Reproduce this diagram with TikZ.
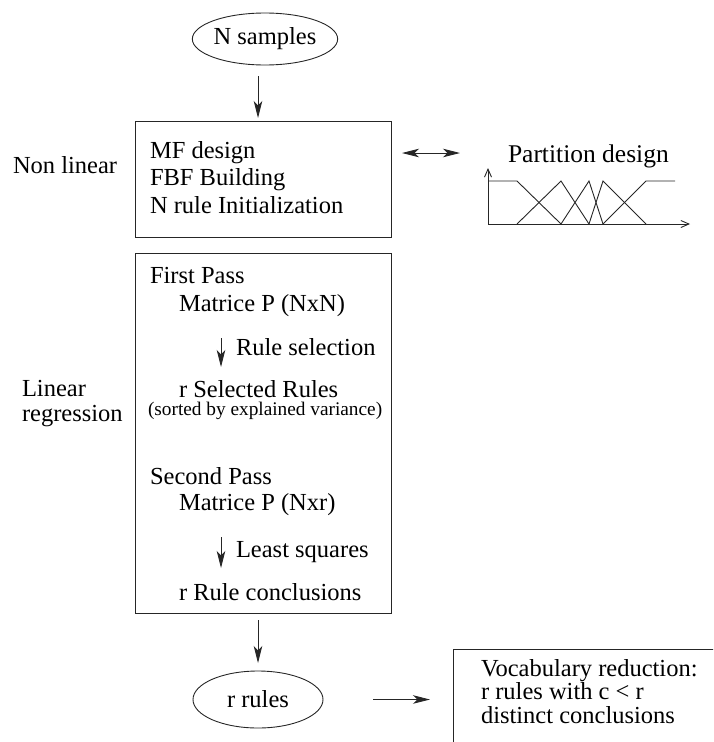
\documentclass[tikz,border=0pt]{standalone}
\usepackage{fontspec}
\setmainfont{Liberation Serif}
\usetikzlibrary{arrows.meta,shapes.geometric}
\begin{document}
\begin{tikzpicture}[x=1pt,y=-1pt,
  every node/.style={inner sep=0pt, outer sep=0pt},
  lbl/.style={font=\fontsize{24.5}{27}\selectfont, anchor=base west},
  smalllbl/.style={font=\fontsize{19.3}{22}\selectfont, anchor=base west},
  ln/.style={line width=0.9pt, draw=black!85},
  tip/.tip={Stealth[length=17pt,width=8.5pt,inset=4.5pt]},
  arr/.style={ln, -tip},
  darr/.style={ln, tip-tip},
  axisarr/.style={ln, -{Straight Barb[length=8pt,width=7pt]}},
  boxst/.style={draw=black!85, line width=0.9pt, rectangle, minimum width=256pt},
  ell/.style={draw=black!85, line width=0.9pt, ellipse, font=\fontsize{24.5}{27}\selectfont}]
\useasboundingbox (0,0) rectangle (713,742);
\clip (0,0) rectangle (713,742);

% top ellipse
\node[ell, minimum width=128pt, minimum height=52pt] (ns) at (265,39) {N samples};

% box 1
\node[boxst, minimum height=116pt] (box1) at (263,179) {};
\node[lbl] (mf) at (150,158) {MF design};
\node[lbl] (fbf) at (150,185.5) {FBF Building};
\node[lbl] (nri) at (150,213) {N rule Initialization};
\node[lbl] (nonlin) at (13,173) {Non linear};

% partition design
\node[lbl, font=\fontsize{25.5}{28}\selectfont] (pd) at (508,162) {Partition design};
\coordinate (dl) at (402,153);
\coordinate (dr) at (460,153);
\draw[darr] (dl) -- (dr);
\coordinate (o) at (488,224);
\draw[axisarr] (o) -- (488,168);
\draw[axisarr] (o) -- (690,224);
\draw[ln] (488,181) -- (517,181) -- (561,224);
\draw[ln] (517,224) -- (561,181) -- (589,224);
\draw[ln] (561,224) -- (589,181) -- (603,224);
\draw[ln] (589,224) -- (603,181) -- (646,224);
\draw[ln] (603,224) -- (646,181) -- (675,181);

% box 2
\node[boxst, minimum height=360pt] (box2) at (263,433) {};
\node[lbl] (fp) at (150,283) {First Pass};
\node[lbl] (m1) at (179,311) {Matrice P (NxN)};
\node[lbl] (rs) at (236,355) {Rule selection};
\node[lbl] (rsr) at (179,397) {r Selected Rules};
\node[smalllbl] (sorted) at (148,415) {(sorted by explained variance)};
\node[lbl] (sp) at (150,484) {Second Pass};
\node[lbl] (m2) at (179,510) {Matrice P (Nxr)};
\node[lbl] (ls) at (236,557) {Least squares};
\node[lbl] (rrc) at (179,600) {r Rule conclusions};
\node[lbl] (lin) at (22,396) {Linear};
\node[lbl] (reg) at (22,421) {regression};

\coordinate (a1s) at (221,338);
\coordinate (a1e) at (221,367);
\draw[arr] (a1s) -- (a1e);
\coordinate (a2s) at (221,537);
\coordinate (a2e) at (221,568);
\draw[arr] (a2s) -- (a2e);

% bottom
\node[ell, minimum width=130pt, minimum height=57pt] (rr) at (258,699.5) {r rules};
\node[draw=black!85, line width=0.9pt, rectangle, anchor=north west,
      minimum width=320pt, minimum height=140pt] (voc) at (453,649) {};
\node[lbl] (v1) at (481,676) {Vocabulary reduction:};
\node[lbl] (v2) at (481,699) {r rules with c < r};
\node[lbl] (v3) at (481,723) {distinct conclusions};

\draw[arr, shorten <=11pt, shorten >=3pt] (ns.south -| rr) -- (box1.north -| rr);
\draw[arr, shorten <=7pt, shorten >=8pt] (box2.south -| rr) -- (rr.north);
\draw[arr, shorten <=50pt, shorten >=23pt] (rr.east) -- (voc.west |- rr.east);
\end{tikzpicture}
\end{document}
